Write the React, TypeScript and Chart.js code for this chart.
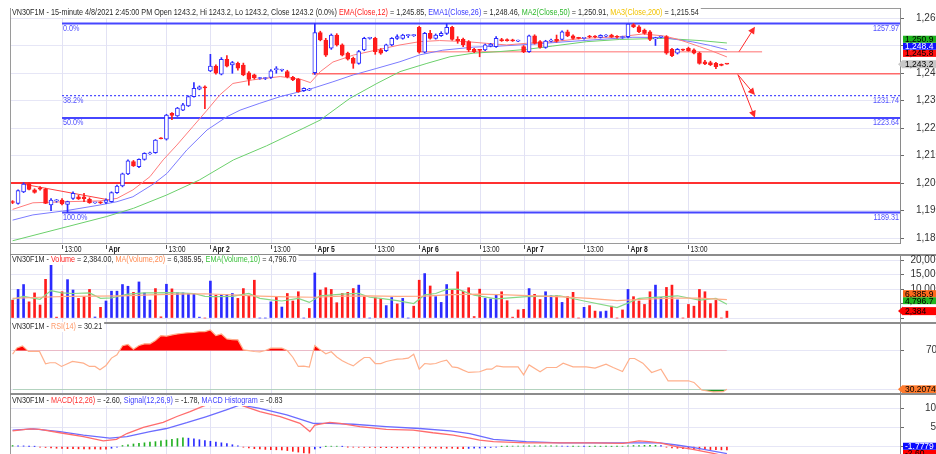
import React, { useEffect, useRef } from "react";
import { Chart, registerables } from "chart.js";

Chart.register(...registerables);

// ---------------- DATA (bar index = 15-minute bar, 0 = first visible bar) ----------------
const opens = [
  1193.2, 1192.6, 1196.8, 1199.6, 1197.5, 1198.2, 1197.7, 1192.0, 1193.5, 1193.8,
  1192.2, 1194.4, 1195.0, 1195.0, 1194.1, 1192.8, 1192.9, 1192.9, 1193.2, 1196.5,
  1198.9, 1203.3, 1207.8, 1205.9, 1208.6, 1210.6, 1211.0, 1216.3, 1215.9, 1225.3,
  1224.4, 1226.5, 1228.0, 1231.4, 1234.1, 1235.0, 1240.8, 1242.5, 1239.6, 1245.0,
  1242.9, 1243.5, 1242.9, 1240.1, 1239.3, 1238.0, 1238.0, 1238.4, 1241.2, 1241.0,
  1240.5, 1238.4, 1237.7, 1233.6, 1233.8, 1240.1, 1254.7, 1252.0, 1249.0, 1253.8,
  1250.2, 1247.2, 1245.3, 1243.5, 1248.4, 1252.6, 1252.6, 1248.4, 1248.1, 1250.2,
  1252.6, 1252.6, 1253.6, 1253.6, 1256.6, 1247.6, 1254.4, 1252.6, 1253.6, 1254.4,
  1256.6, 1252.2, 1252.2, 1251.4, 1248.6, 1248.4, 1248.4, 1249.8, 1249.6, 1252.0,
  1252.0, 1251.9, 1251.6, 1249.6, 1247.8, 1253.5, 1251.4, 1249.3, 1251.6, 1252.2,
  1252.2, 1255.0, 1253.5, 1252.7, 1252.6, 1253.3, 1253.3, 1252.9, 1253.4, 1253.8,
  1253.2, 1252.9, 1253.2, 1257.6, 1256.8, 1255.6, 1255.0, 1252.4, 1253.1, 1253.2,
  1248.6, 1247.2, 1248.4, 1249.0, 1248.4, 1247.2, 1244.1, 1243.8, 1243.5, 1243.0,
  1243.2,
];
const highs = [
  1193.6, 1197.5, 1200.1, 1200.1, 1197.9, 1198.7, 1198.1, 1194.3, 1194.0, 1194.3,
  1193.4, 1196.8, 1195.5, 1196.2, 1194.6, 1193.0, 1193.2, 1194.2, 1196.8, 1199.2,
  1203.6, 1208.4, 1208.2, 1208.8, 1211.0, 1211.2, 1215.8, 1216.5, 1225.0, 1225.6,
  1227.5, 1229.0, 1231.7, 1236.5, 1235.3, 1235.3, 1246.8, 1243.0, 1245.6, 1246.3,
  1244.2, 1244.0, 1243.6, 1240.5, 1239.6, 1238.4, 1238.4, 1241.2, 1242.3, 1241.4,
  1241.0, 1238.8, 1238.0, 1234.6, 1234.4, 1257.97, 1255.2, 1252.6, 1254.2, 1254.3,
  1250.6, 1247.6, 1245.8, 1248.2, 1253.0, 1253.0, 1253.0, 1248.9, 1250.5, 1252.9,
  1253.9, 1254.1, 1254.0, 1254.0, 1257.0, 1254.8, 1255.5, 1254.2, 1255.0, 1257.9,
  1257.0, 1253.2, 1252.7, 1251.8, 1249.0, 1248.6, 1250.5, 1250.8, 1253.2, 1252.6,
  1252.4, 1252.3, 1252.0, 1250.0, 1253.8, 1253.9, 1251.8, 1251.9, 1252.3, 1253.8,
  1255.3, 1255.6, 1253.9, 1253.0, 1252.9, 1253.7, 1253.6, 1253.9, 1254.0, 1254.1,
  1253.6, 1253.4, 1257.9, 1257.97, 1257.2, 1256.0, 1255.4, 1253.0, 1253.4, 1253.6,
  1249.0, 1248.9, 1248.7, 1249.4, 1248.8, 1247.6, 1244.6, 1244.3, 1243.9, 1243.3,
  1243.2,
];
const lows = [
  1192.5, 1192.3, 1196.5, 1197.5, 1196.3, 1197.4, 1192.5, 1189.9, 1193.0, 1192.0,
  1189.31, 1194.0, 1194.0, 1193.2, 1192.6, 1192.6, 1192.5, 1192.5, 1193.0, 1196.2,
  1198.6, 1203.0, 1206.0, 1205.6, 1208.3, 1210.4, 1210.8, 1216.0, 1215.6, 1223.0,
  1224.2, 1226.3, 1227.8, 1231.2, 1233.9, 1227.0, 1240.5, 1239.6, 1239.3, 1242.2,
  1239.9, 1241.0, 1239.0, 1235.6, 1237.8, 1237.8, 1237.6, 1238.0, 1239.9, 1240.6,
  1238.2, 1237.2, 1233.0, 1233.3, 1233.6, 1239.5, 1251.7, 1246.0, 1248.6, 1249.8,
  1246.2, 1244.7, 1241.7, 1243.2, 1248.1, 1252.3, 1246.8, 1246.8, 1247.8, 1249.9,
  1252.2, 1252.3, 1252.9, 1253.3, 1247.2, 1247.3, 1252.3, 1252.3, 1253.3, 1254.0,
  1251.9, 1250.8, 1249.6, 1247.8, 1247.4, 1245.9, 1248.1, 1249.5, 1249.3, 1251.5,
  1251.6, 1251.5, 1251.4, 1247.4, 1247.5, 1250.5, 1249.0, 1249.0, 1251.3, 1251.2,
  1252.0, 1253.2, 1252.3, 1252.4, 1252.3, 1252.8, 1252.8, 1252.7, 1253.1, 1252.9,
  1252.7, 1252.6, 1252.8, 1256.5, 1254.7, 1254.1, 1251.8, 1250.0, 1252.8, 1246.8,
  1245.9, 1246.9, 1248.1, 1247.9, 1246.9, 1243.2, 1243.0, 1242.7, 1241.6, 1242.6,
  1243.2,
];
const closes = [
  1192.9, 1197.2, 1199.6, 1197.7, 1196.6, 1197.8, 1192.6, 1193.8, 1193.6, 1192.4,
  1193.2, 1196.2, 1194.2, 1194.3, 1192.85, 1192.9, 1192.8, 1193.8, 1196.5, 1198.9,
  1203.3, 1208.1, 1206.2, 1208.6, 1210.8, 1210.8, 1215.6, 1216.1, 1224.7, 1224.6,
  1227.2, 1228.4, 1231.4, 1234.4, 1235.0, 1234.6, 1242.5, 1239.9, 1245.0, 1242.5,
  1243.8, 1241.8, 1239.3, 1237.7, 1238.2, 1238.1, 1238.1, 1240.8, 1241.3, 1241.1,
  1238.7, 1237.5, 1233.2, 1234.4, 1234.0, 1254.7, 1252.0, 1246.5, 1253.8, 1250.2,
  1246.5, 1245.0, 1243.5, 1247.8, 1252.6, 1252.8, 1247.8, 1247.2, 1250.2, 1252.6,
  1253.2, 1253.8, 1253.8, 1253.8, 1247.6, 1254.4, 1252.6, 1253.8, 1254.4, 1256.6,
  1252.2, 1251.8, 1250.2, 1248.4, 1247.8, 1248.2, 1250.2, 1250.5, 1252.6, 1251.8,
  1251.8, 1251.7, 1251.8, 1247.8, 1253.5, 1250.8, 1249.3, 1251.6, 1252.0, 1251.6,
  1255.0, 1253.5, 1252.6, 1252.6, 1252.7, 1253.1, 1253.1, 1253.7, 1253.8, 1253.0,
  1253.0, 1253.2, 1257.8, 1256.8, 1255.0, 1254.4, 1252.2, 1252.6, 1253.2, 1247.2,
  1246.3, 1248.6, 1248.3, 1248.1, 1247.2, 1243.5, 1243.3, 1243.0, 1242.3, 1242.8,
  1243.2,
];
const volumes = [
  6200, 9900, 11600, 5600, 8700, 4500, 13400, 18500, 300, 9100,
  13300, 9700, 6800, 7400, 9900, 350, 3700, 5900, 9300, 9300,
  11600, 11000, 8900, 12500, 8700, 6200, 10200, 400, 11700, 10100,
  8700, 8700, 8500, 8500, 300, 0, 12800, 7900, 8200, 8200,
  8500, 6800, 10200, 7900, 13100, 0, 0, 5600, 7400, 3800,
  8500, 5900, 9100, 0, 3300, 15600, 9700, 10500, 9900, 5300,
  8500, 8900, 10200, 11400, 7400, 0, 7000, 6800, 4300, 7100,
  4900, 6800, 0, 4100, 13100, 15400, 11100, 7400, 5400, 11600,
  9700, 16000, 9300, 10500, 500, 10000, 6800, 6600, 7900, 9100,
  6000, 300, 2800, 3000, 10200, 8200, 6400, 9100, 7700, 7700,
  5400, 7400, 8900, 0, 3700, 4300, 2400, 2200, 2400, 4100,
  0, 2800, 9900, 7400, 5900, 4700, 9100, 11400, 7100, 10600,
  11400, 6300, 0, 4700, 4100, 9900, 9100, 5000, 6100, 0,
  2384,
];
const volumeSide = [
  -1, 1, 1, -1, -1, -1, -1, 1, -1, -1,
  1, 1, -1, -1, -1, 1, -1, 1, 1, 1,
  1, 1, -1, 1, 1, 1, -1, -1, 1, -1,
  1, 1, 1, 1, 1, -1, 1, -1, 1, 1,
  1, -1, -1, -1, -1, 1, 1, 1, -1, 1,
  -1, -1, -1, 1, -1, 1, -1, -1, -1, -1,
  -1, -1, -1, 1, -1, 1, -1, -1, 1, 1,
  -1, 1, 1, -1, -1, 1, -1, 1, 1, 1,
  -1, -1, -1, -1, -1, -1, 1, 1, 1, -1,
  -1, -1, -1, -1, 1, -1, -1, 1, 1, -1,
  1, -1, -1, -1, 1, -1, -1, 1, 1, -1,
  -1, -1, 1, -1, -1, -1, -1, 1, 1, -1,
  -1, 1, -1, -1, -1, -1, -1, -1, -1, -1,
  -1,
];
// indicator lines: [bar, value]
const emaClose12 = [
  [0, 1190.4], [3.7, 1192.8], [9.9, 1193.2], [15.9, 1193.5], [19, 1194.4], [21.9, 1197.5],
  [25, 1202.3], [27.4, 1208.4], [29.9, 1213.8], [32.8, 1220.5], [35.4, 1226.5], [37.7, 1232],
  [40.1, 1236.2], [43.7, 1237.5], [48.7, 1238.7], [52.3, 1237.8], [54.2, 1236.5], [56, 1240.5],
  [58.3, 1244], [62, 1246.5], [66.3, 1248.4], [70.5, 1250.2], [74.1, 1251.4], [77.7, 1251.8],
  [82.6, 1251.4], [86.2, 1250.8], [89.9, 1250.2], [93.5, 1250.8], [98.4, 1251.4], [103.8, 1252.6],
  [110.5, 1253.2], [114.8, 1254.2], [118.4, 1253.5], [121, 1252.3], [123, 1251], [125, 1249.6],
  [127, 1248.2], [130, 1245.85],
];
const emaClose26 = [
  [0, 1186.5], [3.7, 1188.4], [9.9, 1190], [15.9, 1192], [19, 1193.2], [21.9, 1195],
  [25.6, 1199.6], [28.1, 1203.5], [31.7, 1212], [35.4, 1219.3], [39, 1224.1], [41.4, 1226.5],
  [45, 1229], [48.7, 1231.4], [52.3, 1233.2], [54.7, 1234.5], [58.3, 1236.8], [62, 1239.3],
  [66.3, 1241.7], [70.5, 1244.1], [74.1, 1246.6], [78.3, 1248.3], [83.8, 1249.4], [88.7, 1249.8],
  [94.7, 1250.5], [100.9, 1251.4], [106.9, 1252.2], [112.9, 1253], [118.4, 1252.9], [123.8, 1251.3],
  [127, 1250], [130, 1248.46],
];
const maClose50 = [
  [0, 1179], [17.1, 1187.8], [22, 1190.8], [28, 1195.6], [34, 1201.1], [40.2, 1208.4],
  [46.2, 1213.5], [52.3, 1219.3], [56, 1222.9], [61.4, 1230.8], [66.3, 1236.2], [70.5, 1240.5],
  [75.4, 1243.5], [79.6, 1245.9], [83.8, 1247.2], [88.7, 1247.8], [93.6, 1248.6], [98.3, 1249.8],
  [104.5, 1251.4], [110.5, 1252.2], [118.4, 1252.6], [125.1, 1251.8], [130, 1250.91],
];
const volumeMA20 = [
  [0, 6800], [5, 7200], [10, 7500], [15, 7600], [20, 7700], [25, 8000], [30, 8300], [35, 8400],
  [40, 8000], [45, 7600], [50, 7300], [55, 7200], [60, 7600], [65, 7700], [70, 7500], [75, 7600],
  [80, 8100], [85, 8300], [90, 8000], [95, 7700], [100, 7300], [105, 6800], [110, 6000],
  [115, 6500], [120, 6900], [125, 6900], [130, 6385.95],
];
const volumeEMA10 = [
  [0, 6500], [2, 7500], [5, 6500], [7, 9500], [9, 8700], [11, 8500], [14, 8700], [16, 6800],
  [18, 7000], [21, 8300], [24, 8700], [26, 8700], [28, 8800], [30, 8700], [33, 8500], [35, 7500],
  [37, 7400], [40, 7500], [43, 8500], [45, 6800], [47, 6300], [49, 5900], [52, 6800], [54, 5400],
  [56, 7700], [60, 8300], [63, 8500], [65, 7200], [67, 6800], [70, 6000], [73, 5000], [75, 8000],
  [77, 8500], [79, 9900], [81, 10000], [84, 7900], [88, 6600], [93.5, 7400], [99.6, 7700],
  [104, 5900], [110, 3600], [114, 6800], [119, 7400], [121, 7700], [125, 6200], [128, 6800],
  [130, 4796.7],
];
const rsi14 = [
  [0, 66.6], [0.8, 72.8], [1.8, 75], [2.9, 69.3], [4.9, 69.3], [6, 56.6], [6.8, 57.6], [7.8, 57.6],
  [8.9, 53.8], [10.9, 58.9], [12.9, 57.2], [14, 53.8], [15, 53.8], [15.9, 50.4], [17, 54.8],
  [18, 62.4], [19, 65.8], [20, 75.1], [21, 76.4], [22, 71.6], [23, 75.4], [24, 77.1], [25, 77.1],
  [26, 80.5], [27, 85.6], [28, 85], [29, 86.3], [30, 87.3], [31, 88], [32, 88.7], [33, 89],
  [34, 89.7], [35, 89.7], [36, 91.4], [37, 85.6], [38, 87.3], [39, 82.2], [40, 81.5], [41, 81.2],
  [42, 70.9], [43, 70.2], [44, 69.2], [45, 68.8], [46, 70.2], [47, 72.6], [48, 72.6], [49, 72.6],
  [50, 70.2], [51, 63.3], [52, 53.8], [53, 54.1], [54, 53.1], [55, 75.4], [56, 70.9], [57, 66.8],
  [58, 69], [59, 63.6], [60, 59.6], [61, 56.8], [62, 54.4], [63, 58.9], [64, 63], [65, 63],
  [66, 56.8], [67, 56.8], [68, 58.9], [69, 60.2], [70, 61.3], [71, 61.6], [72, 62.3], [73, 66.4],
  [74, 51], [75, 56.8], [76, 56.1], [77, 56.8], [78, 58.9], [79, 60.2], [80, 53.3], [81, 52.6],
  [82, 50], [83, 47.6], [85, 48.3], [86.3, 51], [87.2, 51], [88.1, 54.4], [89.3, 53.4], [92, 53.4],
  [93, 45.1], [94, 55.4], [96, 48.3], [97.2, 52.7], [99, 52.7], [100.2, 57.2], [102, 53.4],
  [104.4, 53.4], [106, 52], [108, 56.1], [109.3, 52.7], [111, 48.6], [112.3, 62], [113.2, 62],
  [114.7, 57.2], [116.3, 47.6], [118, 51], [119.3, 39], [120.8, 39], [123, 39], [124, 37.3],
  [125.4, 29.5], [127.5, 27.6], [129.3, 27.8], [130, 30.21],
];
const macdLine = [
  [0, 4.1], [3.2, 4.6], [5, 4.5], [8.6, 3.6], [12.9, 2.6], [16.5, 1.5], [18.9, 1.9], [20.8, 3.4],
  [23.8, 5.0], [27.4, 6.3], [29.9, 7.8], [32.3, 9.05], [34.7, 10.5], [37, 11.6], [39, 12.0],
  [41.4, 10.8], [45, 9.05], [48.7, 7.8], [52.3, 6.04], [54.1, 3.9], [55, 5.6], [57.7, 6.3],
  [59.6, 6.04], [63.2, 5.2], [68, 4.5], [72.9, 4.3], [76.5, 3.6], [80.2, 3.0], [83.2, 2.2],
  [85, 1.7], [87.5, 1.3], [93.5, 1.0], [99.6, 1.0], [105.7, 1.0], [111.1, 0.87], [114, 1.5],
  [115.8, 1.3], [117.8, 1.0], [120.8, 0.0], [123.8, -0.7], [127.5, -1.7], [130, -2.6],
];
const signalLine = [
  [0, 4.3], [3.8, 4.6], [8.6, 3.9], [12.9, 3.0], [17.7, 2.2], [20.8, 2.6], [25, 3.9], [28, 4.7],
  [31.7, 6.2], [35.3, 7.8], [38.9, 9.5], [41.4, 10.8], [45, 9.9], [49.9, 8.2], [54.7, 6.04],
  [57.7, 6.04], [62, 5.8], [68, 5.2], [74.1, 4.7], [79.6, 4.1], [83.2, 3.4], [87.5, 1.9],
  [93.5, 1.3], [99.6, 1.0], [105.7, 1.0], [111.7, 1.0], [117.8, 1.0], [120.8, 0.44],
  [123.8, -0.16], [130, -1.78],
];
const macdHistogram = [
  0.3, 0.25, 0.2, 0.1, 0.05,
  -0.1, -0.2, -0.3, -0.4, -0.45, -0.5, -0.5, -0.55, -0.55, -0.6, -0.6, -0.65, -0.65,
  -0.4, -0.1, 0.3, 0.5, 0.7, 0.9, 1.0, 1.2, 1.3, 1.5, 1.7, 1.9, 2.1, 2.3,
  2.2, 2.0, 1.8, 1.6, 1.4, 1.2, 1.0, 0.8, 0.5, 0.2,
  -0.1, -0.3, -0.5, -0.6, -0.7, -0.75, -0.8, -0.85,
  -1.0, -1.2, -1.4, -1.6, -1.7,
  -0.6, -0.3, 0.05, 0.1, 0.1, 0.05,
  -0.05, -0.1, -0.15, -0.2, -0.2, -0.2, -0.25, -0.25, -0.25, -0.3, -0.3, -0.3, -0.3, -0.35, -0.35, -0.35, -0.35, -0.4, -0.4, -0.4,
  -0.5, -0.5, -0.45, -0.4, -0.35,
  -0.3, -0.2, -0.1,
  0.05, 0.1, 0.15, 0.15, 0.2, 0.2, 0.2, 0.2, 0.2, 0.2, 0.2,
  0.15, 0.1, 0.1, 0.1, 0.05, 0.05, 0.05, 0.05, 0.05, 0.05, 0.05,
  0.1, 0.2, 0.3, 0.3, 0.35, 0.35, 0.35, 0.3,
  -0.1, -0.3, -0.4, -0.5, -0.55, -0.6,
  -0.65, -0.7, -0.75, -0.8, -0.82, -0.83,
];
// tick values
const priceTicks = [1180, 1190, 1200, 1210, 1220, 1230, 1240, 1250, 1260];
const volumeTicks = [0, 5000, 10000, 15000, 20000];
const rsiTicks = [30, 70];
const macdTicks = [0, 5, 10];
// time axis labels
const timeLabelBars = [9, 17, 28, 36, 47, 55, 66, 74, 85, 93, 104, 112, 123];
const timeLabels = ["13:00", "Apr", "13:00", "Apr 2", "13:00", "Apr 5", "13:00", "Apr 6", "13:00", "Apr 7", "13:00", "Apr 8", "13:00"];
// drawing tools
const fibLevels = [1257.97, 1231.74, 1223.64, 1189.31];
const fibNames = ["0.0%", "38.2%", "50.0%", "100.0%"];
const fibStartBar = 9;
const levelValues = [1200, 1239.75, 1247.75];
const levelStartBar = [-0.47, 54.5, 73.8];
const levelEndBar = [161.5, 161.5, 136.4];
const trendLine = [[1.9, 1199.6], [17.7, 1193.8]];
const arrowFrom = [[132.2, 1247.75], [132.0, 1239.4], [132.0, 1239.4]];
const arrowTo = [[135.1, 1256.8], [135.1, 1232.0], [135.1, 1223.7]];

// ---------------- LAYOUT / STYLE ----------------
const X_MIN = -0.47;
const X_MAX = 161.5;
const CW = 940;
const AXIS_W = 40;
const SANS = '"Liberation Sans", Arial, Helvetica, sans-serif';
const BLUE = "#2b2bff";
const RED = "#ff1c1c";
const GREEN = "#22b022";
const DARK = "#2a2a2a";
const TITLE_SX = 0.85;

function txt(ctx: CanvasRenderingContext2D, s: string, x: number, y: number, size: number, color: string, o: any = {}) {
  const sx = o.sx ?? 0.8;
  ctx.save();
  ctx.font = `${o.bold ? "bold " : ""}${size}px ${SANS}`;
  const w = ctx.measureText(s).width * sx;
  const x0 = o.align === "right" ? x - w : x;
  ctx.translate(x0, y);
  ctx.scale(sx, 1);
  ctx.textAlign = "left";
  ctx.textBaseline = "middle";
  ctx.fillStyle = color;
  ctx.fillText(s, 0, 0);
  ctx.restore();
  return w;
}

function makeDecor(cfg: any) {
  return {
    id: "decor",
    beforeDatasetsDraw(chart: any) {
      const { ctx, chartArea: ca, scales } = chart;
      ctx.save();
      ctx.beginPath();
      ctx.rect(ca.left, ca.top, ca.right - ca.left, ca.bottom - ca.top);
      ctx.clip();
      ctx.strokeStyle = "#e2e2f4";
      ctx.lineWidth = 1;
      for (const g of timeLabelBars) {
        const px = Math.round(scales.x.getPixelForValue(g)) + 0.5;
        ctx.beginPath();
        ctx.moveTo(px, ca.top);
        ctx.lineTo(px, ca.bottom);
        ctx.stroke();
      }
      ctx.restore();
    },
    afterDatasetsDraw(chart: any) {
      if (!cfg.main) return;
      const { ctx, chartArea: ca, scales } = chart;
      const xs = scales.x, ys = scales.y;
      fibLevels.forEach((lv, i) => {
        const py = ys.getPixelForValue(lv);
        txt(ctx, fibNames[i], xs.getPixelForValue(fibStartBar) + 1, py + 5, 8.5, "#5050ff", { sx: 0.85 });
        txt(ctx, lv.toFixed(2), ca.right - 1, py + 5, 8.5, "#5050ff", { align: "right", sx: 0.85 });
      });
      ctx.save();
      ctx.strokeStyle = "#ff2a2a";
      ctx.fillStyle = "#ff2a2a";
      ctx.lineWidth = 1;
      arrowFrom.forEach((f, i) => {
        const x1 = xs.getPixelForValue(f[0]), y1 = ys.getPixelForValue(f[1]);
        const x2 = xs.getPixelForValue(arrowTo[i][0]), y2 = ys.getPixelForValue(arrowTo[i][1]);
        const a = Math.atan2(y2 - y1, x2 - x1);
        const L = 7, W = 3.5;
        ctx.beginPath();
        ctx.moveTo(x1, y1);
        ctx.lineTo(x2 - Math.cos(a) * L * 0.6, y2 - Math.sin(a) * L * 0.6);
        ctx.stroke();
        ctx.beginPath();
        ctx.moveTo(x2, y2);
        ctx.lineTo(x2 - Math.cos(a) * L - Math.sin(a) * W, y2 - Math.sin(a) * L + Math.cos(a) * W);
        ctx.lineTo(x2 - Math.cos(a) * L + Math.sin(a) * W, y2 - Math.sin(a) * L - Math.cos(a) * W);
        ctx.closePath();
        ctx.fill();
      });
      ctx.restore();
    },
    afterDraw(chart: any) {
      const { ctx, chartArea: ca, scales, width, height } = chart;
      const xs = scales.x, ys = scales.y;
      ctx.save();
      ctx.strokeStyle = "#9a9a9a";
      ctx.lineWidth = 1;
      ctx.beginPath();
      ctx.moveTo(ca.left + 0.5, cfg.main ? ca.top : 0);
      ctx.lineTo(ca.left + 0.5, height);
      ctx.stroke();
      if (cfg.main) {
        ctx.beginPath();
        ctx.moveTo(ca.left, ca.top + 0.5);
        ctx.lineTo(ca.right, ca.top + 0.5);
        ctx.moveTo(ca.left, ca.bottom + 0.5);
        ctx.lineTo(ca.right, ca.bottom + 0.5);
        ctx.stroke();
      } else {
        ctx.fillStyle = "#8c8c8c";
        ctx.fillRect(ca.left, 0, width - ca.left, 2);
      }
      ctx.restore();

      // value boxes (layout first, to keep tick labels off them)
      const H = 7, HP = 8;
      let items: any[] = [];
      if (cfg.boxes) {
        items = cfg.boxes
          .map((b: any) => {
            const py = ys.getPixelForValue(b.value);
            const h = b.pointer ? HP : H;
            return { ...b, h, top: b.pointer ? py - h / 2 : py - h };
          })
          .sort((a: any, b: any) => a.value - b.value);
        let limit = Infinity;
        for (const it of items) {
          if (it.top + it.h > limit) it.top = limit - it.h;
          limit = it.top;
        }
      }
      // y tick labels
      for (const t of ys.ticks) {
        const py = ys.getPixelForValue(t.value);
        const hidden = items.some((it) => py > it.top + 0.5 && py < it.top + it.h - 0.5);
        if (hidden) continue;
        txt(ctx, Number(t.value).toLocaleString("en-US"), cfg.tickRight, py, 10, "#333", { sx: 1, align: "right" });
      }
      // time labels
      if (cfg.main) {
        ctx.save();
        ctx.strokeStyle = "#555";
        timeLabelBars.forEach((g, i) => {
          const px = Math.round(xs.getPixelForValue(g)) + 0.5;
          ctx.beginPath();
          ctx.moveTo(px, ca.bottom + 2);
          ctx.lineTo(px, ca.bottom + 6);
          ctx.stroke();
          txt(ctx, timeLabels[i], px + 2, ca.bottom + 6.5, 8.5, "#222", { bold: timeLabels[i] !== "13:00" });
        });
        ctx.restore();
      }
      // title
      if (cfg.title) {
        ctx.save();
        let total = 0;
        ctx.font = `8.5px ${SANS}`;
        for (const [s] of cfg.title) total += ctx.measureText(s).width * TITLE_SX;
        ctx.fillStyle = "#fff";
        ctx.fillRect(ca.left + 1, cfg.titleY - 5, total + 3, 10);
        ctx.restore();
        let cx = ca.left + 2;
        for (const [s, c] of cfg.title) cx += txt(ctx, s, cx, cfg.titleY, 8.5, c, { sx: TITLE_SX });
      }
      // draw boxes
      for (const it of items) {
        const bx = ca.right + 3;
        ctx.save();
        ctx.fillStyle = it.bg;
        ctx.fillRect(bx, it.top, width - bx, it.h);
        if (it.pointer) {
          ctx.beginPath();
          ctx.moveTo(ca.right - 2, it.top + it.h / 2);
          ctx.lineTo(bx, it.top - 0.5);
          ctx.lineTo(bx, it.top + it.h + 0.5);
          ctx.closePath();
          ctx.fill();
        }
        ctx.restore();
        txt(ctx, it.label, bx + 2, it.top + it.h / 2 + 0.5, 8.5, it.fg, { sx: 1 });
      }
    },
  };
}

function baseOptions(yMin: number, yMax: number, yTicks: number[], padding: any) {
  return {
    responsive: false,
    animation: false,
    devicePixelRatio: 1,
    events: [],
    layout: { padding },
    plugins: { legend: { display: false }, tooltip: { enabled: false } },
    scales: {
      x: { type: "linear", min: X_MIN, max: X_MAX, display: false, offset: false },
      y: {
        type: "linear",
        position: "right",
        min: yMin,
        max: yMax,
        afterBuildTicks: (s: any) => {
          s.ticks = yTicks.map((v) => ({ value: v }));
        },
        afterFit: (s: any) => {
          s.width = AXIS_W;
        },
        grid: { color: "#e6e6f6", lineWidth: 1, tickColor: "#6a6a6a", tickLength: 4, drawTicks: true },
        border: { display: true, color: "#8a8a8a", width: 1 },
        ticks: { display: false },
      },
    },
  };
}

const pts = (arr: number[][]) => arr.map(([x, y]) => ({ x, y }));
const bars = opens.map((_, i) => i);
const isUp = (i: number) => closes[i] > opens[i];

function mainConfig(): any {
  const lineDs = (data: any[], color: string, width = 1, dash: number[] = [], order = 4) => ({
    type: "line",
    data,
    borderColor: color,
    borderWidth: width,
    borderDash: dash,
    pointRadius: 0,
    tension: 0,
    fill: false,
    order,
  });
  const datasets: any[] = [
    {
      type: "bar",
      data: bars.map((i) => ({ x: i, y: [opens[i], closes[i]] })),
      backgroundColor: bars.map((i) => (isUp(i) ? "#ffffff" : RED)),
      borderColor: bars.map((i) => (isUp(i) ? BLUE : RED)),
      borderWidth: 1,
      borderSkipped: false,
      barThickness: 4,
      minBarLength: 1,
      grouped: false,
      order: 1,
    },
    {
      type: "bar",
      data: bars.map((i) => ({ x: i, y: [lows[i], highs[i]] })),
      backgroundColor: bars.map((i) => (isUp(i) ? BLUE : RED)),
      barThickness: 1,
      grouped: false,
      order: 2,
    },
    lineDs(pts(emaClose12), "#ff7c7c", 1, [], 3),
    lineDs(pts(emaClose26), "#7c7cff", 1, [], 3),
    lineDs(pts(maClose50), "#6cd06c", 1, [], 3),
    lineDs(pts(trendLine), "#ff4040", 1, [], 4),
  ];
  fibLevels.forEach((lv, i) => {
    datasets.push(lineDs([{ x: fibStartBar, y: lv }, { x: X_MAX, y: lv }], i === 1 ? "#2020ff" : "#4646ff", i === 1 ? 1 : 2, i === 1 ? [2, 2] : [], 5));
  });
  levelValues.forEach((lv, i) => {
    datasets.push(lineDs([{ x: levelStartBar[i], y: lv }, { x: levelEndBar[i], y: lv }], i === 0 ? "#ff3030" : i === 1 ? "#ff6a6a" : "#ffa0a0", i === 0 ? 2 : 1.5, [], 5));
  });
  const pad = { left: 10, right: 0, top: 8, bottom: 11 };
  return {
    type: "bar",
    data: { datasets },
    options: baseOptions(1200 - 60 / 2.75, 1200 + 175 / 2.75, priceTicks, pad),
    plugins: [
      makeDecor({
        main: true,
        tickRight: 941,
        titleY: 13,
        title: [
          ["VN30F1M - 15-minute 4/8/2021 2:45:00 PM Open 1243.2, Hi 1243.2, Lo 1243.2, Close 1243.2 (0.0%) ", DARK],
          ["EMA(Close,12)", "#ff2020"],
          [" = 1,245.85, ", DARK],
          ["EMA1(Close,26)", "#3a3aff"],
          [" = 1,248.46, ", DARK],
          ["MA2(Close,50)", "#2eb82e"],
          [" = 1,250.91, ", DARK],
          ["MA3(Close,200)", "#f2c200"],
          [" = 1,215.54", DARK],
        ],
        boxes: [
          { value: 1250.91, label: "1,250.9", bg: "#1db41d", fg: "#000" },
          { value: 1248.46, label: "1,248.4", bg: "#1010ff", fg: "#fff" },
          { value: 1245.85, label: "1,245.8", bg: "#ff1010", fg: "#000" },
          { value: 1243.2, label: "1,243.2", bg: "#c8c8c8", fg: "#000", pointer: true },
        ],
      }),
    ],
  };
}

function volumeConfig(): any {
  return {
    type: "bar",
    data: {
      datasets: [
        { type: "line", data: pts(volumeMA20), borderColor: "#ffab85", borderWidth: 1.2, pointRadius: 0, order: 1 },
        { type: "line", data: pts(volumeEMA10), borderColor: "#86d886", borderWidth: 1.2, pointRadius: 0, order: 1 },
        {
          type: "bar",
          data: bars.map((i) => ({ x: i, y: volumes[i] })),
          backgroundColor: bars.map((i) => (volumeSide[i] > 0 ? BLUE : RED)),
          barThickness: 2,
          grouped: false,
          order: 2,
        },
      ],
    },
    options: baseOptions(-1386, 21837, volumeTicks, { left: 10, right: 0, top: 1, bottom: 0 }),
    plugins: [
      makeDecor({
        tickRight: 941,
        titleY: 6,
        title: [
          ["VN30F1M - ", DARK],
          ["Volume", "#ff2020"],
          [" = 2,384.00, ", DARK],
          ["MA(Volume,20)", "#ff8a50"],
          [" = 6,385.95, ", DARK],
          ["EMA(Volume,10)", "#3cc03c"],
          [" = 4,796.70", DARK],
        ],
        boxes: [
          { value: 6385.95, label: "6,385.9", bg: "#ff6a1c", fg: "#000" },
          { value: 4796.7, label: "4,796.7", bg: "#22b622", fg: "#000" },
          { value: 2384, label: "2,384", bg: "#ff0000", fg: "#000", pointer: true },
        ],
      }),
    ],
  };
}

function rsiConfig(): any {
  return {
    type: "line",
    data: {
      datasets: [
        {
          data: pts(rsi14),
          borderColor: "#ffb08c",
          borderWidth: 1.2,
          pointRadius: 0,
          fill: { target: { value: 70 }, above: "rgb(255,0,0)", below: "rgba(0,0,0,0)" },
          order: 1,
        },
        {
          data: pts(rsi14),
          borderColor: "rgba(0,0,0,0)",
          borderWidth: 0,
          pointRadius: 0,
          fill: { target: { value: 30 }, above: "rgba(0,0,0,0)", below: "#1e9a1e" },
          order: 2,
        },
      ],
    },
    options: baseOptions(26.4, 98.6, rsiTicks, { left: 10, right: 0, top: 1, bottom: 0 }),
    plugins: [
      makeDecor({
        tickRight: 937,
        titleY: 5,
        title: [
          ["VN30F1M - ", DARK],
          ["RSI(14)", "#ff9a6a"],
          [" = 30.21", DARK],
        ],
        boxes: [{ value: 30.2074, label: "30.2074", bg: "#ff7a2c", fg: "#000", pointer: true }],
      }),
    ],
  };
}

function macdConfig(): any {
  const histColors = macdHistogram.map((h, i) => {
    const prev = i > 0 ? macdHistogram[i - 1] : h;
    if (h >= 0) return h >= prev ? GREEN : BLUE;
    return h <= prev ? RED : BLUE;
  });
  return {
    type: "bar",
    data: {
      datasets: [
        { type: "line", data: pts(signalLine), borderColor: "#6c6cff", borderWidth: 1.3, pointRadius: 0, order: 2 },
        { type: "line", data: pts(macdLine), borderColor: "#ff6c6c", borderWidth: 1.3, pointRadius: 0, order: 1 },
        {
          type: "bar",
          data: bars.map((i) => ({ x: i, y: macdHistogram[i] })),
          backgroundColor: histColors,
          barThickness: 1,
          grouped: false,
          order: 3,
        },
      ],
    },
    options: baseOptions(-1.89, 13.62, macdTicks, { left: 10, right: 0, top: 1, bottom: 0 }),
    plugins: [
      makeDecor({
        tickRight: 936,
        titleY: 8,
        title: [
          ["VN30F1M - ", DARK],
          ["MACD(12,26)", "#ff3030"],
          [" = -2.60, ", DARK],
          ["Signal(12,26,9)", "#4040ff"],
          [" = -1.78, ", DARK],
          ["MACD Histogram", "#4040ff"],
          [" = -0.83", DARK],
        ],
        boxes: [
          { value: -1.78, label: "-1.7779", bg: "#0a0aff", fg: "#fff" },
          { value: -2.6, label: "-2.60", bg: "#ff0000", fg: "#000" },
        ],
      }),
    ],
  };
}

function Panel({ top, height, build }: { top: number; height: number; build: () => any }) {
  const ref = useRef<HTMLCanvasElement>(null);
  useEffect(() => {
    const chart = new Chart(ref.current as HTMLCanvasElement, build());
    return () => chart.destroy();
  }, []);
  return (
    <canvas
      ref={ref}
      width={CW}
      height={height}
      style={{ position: "absolute", left: 0, top, width: CW, height, display: "block" }}
    />
  );
}

export default function App() {
  useEffect(() => {
    document.body.style.margin = "0";
    document.body.style.overflow = "hidden";
  }, []);
  return (
    <div style={{ position: "relative", width: 936, height: 454, overflow: "hidden", background: "#fff" }}>
      <Panel top={0} height={254} build={mainConfig} />
      <Panel top={254} height={68} build={volumeConfig} />
      <Panel top={322} height={71} build={rsiConfig} />
      <Panel top={393} height={61} build={macdConfig} />
    </div>
  );
}
